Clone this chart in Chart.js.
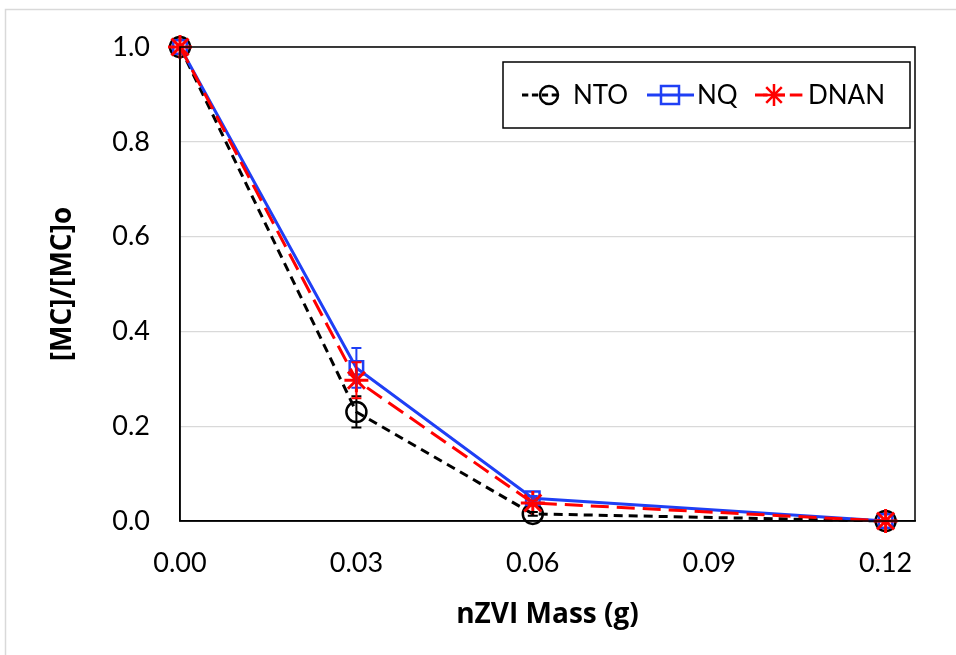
<!DOCTYPE html>
<html>
<head>
<meta charset="utf-8">
<script src="https://cdn.jsdelivr.net/npm/chart.js@4"></script>
<style>
  html, body { margin: 0; padding: 0; background: #fff; }
  #wrap { width: 956px; height: 655px; }
</style>
</head>
<body>
<div id="wrap"><canvas id="grafico" width="956" height="655"></canvas></div>
<script>
// nZVI mass (g)
var massas = [0, 0.03, 0.06, 0.12];
var nto = [1.0, 0.23, 0.015, 0.0];
var nq = [1.0, 0.323, 0.048, 0.0];
var dnan = [1.0, 0.297, 0.038, 0.0];
// error bars (+/-)
var ntoErr = [0, 0.033, 0.004, 0];
var nqErr = [0, 0.042, 0.005, 0];
var dnanErr = [0, 0.038, 0.005, 0];
var xTicks = [0, 0.03, 0.06, 0.09, 0.12];
var yTicks = [0, 0.2, 0.4, 0.6, 0.8, 1.0];

function pontos(ys) {
    return massas.map(function (x, i) { return { x: x, y: ys[i] }; });
}

var fonte = "Lato, 'Open Sans', sans-serif";
var fonteTitulo = "'Open Sans', Lato, sans-serif";

var series = [
    { label: "NTO", data: nto, err: ntoErr, color: "#000000", dash: [9, 6], style: "circle", order: 3 },
    { label: "NQ", data: nq, err: nqErr, color: "#1f3ff5", dash: [], style: "rect", order: 2 },
    { label: "DNAN", data: dnan, err: dnanErr, color: "#ff0000", dash: [18, 8], style: "star", order: 1 }
];

// gray frame + plot border
var molduraPlugin = {
    id: "moldura",
    beforeDraw: function (chart) {
        var ctx = chart.ctx;
        ctx.save();
        ctx.strokeStyle = "#d9d9d9";
        ctx.lineWidth = 1.5;
        ctx.strokeRect(5.5, 9.5, 1000, 1000);
        ctx.restore();
    },
    afterDraw: function (chart) {
        var a = chart.chartArea, ctx = chart.ctx;
        ctx.save();
        ctx.strokeStyle = "#000";
        ctx.lineWidth = 1.5;
        ctx.strokeRect(a.left, a.top, a.right - a.left, a.bottom - a.top);
        ctx.restore();
    }
};

// error bars drawn from the arrays
var errosPlugin = {
    id: "erros",
    afterDatasetsDraw: function (chart) {
        var ctx = chart.ctx, xs = chart.scales.x, ys = chart.scales.y;
        ctx.save();
        series.forEach(function (s) {
            ctx.strokeStyle = s.color;
            ctx.lineWidth = 2;
            s.err.forEach(function (e, i) {
                if (!e) return;
                var px = xs.getPixelForValue(massas[i]);
                var y1 = ys.getPixelForValue(s.data[i] - e);
                var y2 = ys.getPixelForValue(s.data[i] + e);
                ctx.beginPath();
                ctx.moveTo(px, y1); ctx.lineTo(px, y2);
                ctx.moveTo(px - 5, y1); ctx.lineTo(px + 5, y1);
                ctx.moveTo(px - 5, y2); ctx.lineTo(px + 5, y2);
                ctx.stroke();
            });
        });
        ctx.restore();
    }
};

function marcador(ctx, style, x, y, r, color) {
    ctx.strokeStyle = color;
    ctx.lineWidth = 2.5;
    ctx.setLineDash([]);
    ctx.beginPath();
    if (style === "circle") {
        ctx.arc(x, y, r, 0, Math.PI * 2);
    } else if (style === "rect") {
        ctx.rect(x - r, y - r, 2 * r, 2 * r);
    } else {
        for (var k = 0; k < 4; k++) {
            var ang = k * Math.PI / 4;
            ctx.moveTo(x - r * Math.cos(ang), y - r * Math.sin(ang));
            ctx.lineTo(x + r * Math.cos(ang), y + r * Math.sin(ang));
        }
    }
    ctx.stroke();
}

// legend box inside plot
var legendaPlugin = {
    id: "legenda",
    afterDraw: function (chart) {
        var ctx = chart.ctx;
        ctx.save();
        ctx.fillStyle = "#fff";
        ctx.fillRect(503, 62, 407, 66);
        ctx.strokeStyle = "#000";
        ctx.lineWidth = 1.5;
        ctx.strokeRect(503, 62, 407, 66);
        var itens = [
            { x0: 522, x1: 560, mx: 549, tx: 573, r: 9 },
            { x0: 647, x1: 694, mx: 670, tx: 697, r: 9 },
            { x0: 755, x1: 806, mx: 774, tx: 808, r: 11 }
        ];
        var y = 95;
        series.forEach(function (s, i) {
            var it = itens[i];
            ctx.strokeStyle = s.color;
            ctx.lineWidth = 3;
            ctx.setLineDash(s.dash.length ? [s.dash[0] * 0.7, s.dash[1] * 0.6] : []);
            ctx.beginPath();
            ctx.moveTo(it.x0, y); ctx.lineTo(it.x1, y);
            ctx.stroke();
            marcador(ctx, s.style, it.mx, y, it.r, s.color);
            ctx.fillStyle = "#000";
            ctx.font = "26px " + fonte;
            ctx.textBaseline = "middle";
            ctx.fillText(s.label, it.tx, y + 1);
        });
        ctx.restore();
    }
};

var config = {
    type: "line",
    data: {
        datasets: series.map(function (s) {
            return {
                label: s.label,
                data: pontos(s.data),
                borderColor: s.color,
                backgroundColor: "rgba(0,0,0,0)",
                borderWidth: 3,
                borderDash: s.dash,
                pointStyle: s.style,
                pointRadius: s.style === "rect" ? 9.5 : (s.style === "star" ? 12 : 10),
                pointBorderWidth: s.style === "star" ? 3 : 2.5,
                pointBorderColor: s.color,
                pointBackgroundColor: "rgba(0,0,0,0)",
                tension: 0,
                clip: false,
                order: s.order
            };
        })
    },
    options: {
        responsive: false,
        animation: false,
        layout: { padding: { left: 0, top: 47, right: 41, bottom: 0 } },
        plugins: { legend: { display: false }, tooltip: { enabled: false } },
        scales: {
            x: {
                type: "linear",
                min: 0,
                max: 0.125,
                afterBuildTicks: function (scale) {
                    scale.ticks = xTicks.map(function (v) { return { value: v }; });
                },
                afterFit: function (scale) { scale.height = 134; },
                grid: { display: false, drawTicks: false },
                border: { display: true, color: "#000", width: 1.5 },
                ticks: {
                    padding: 26,
                    color: "#000",
                    font: { family: fonte, size: 27 },
                    callback: function (v) { return Number(v).toFixed(2); }
                },
                title: {
                    display: true,
                    text: "nZVI Mass (g)",
                    color: "#000",
                    font: { family: fonteTitulo, size: 28, weight: "bold" },
                    padding: { top: 0, bottom: 23 }
                }
            },
            y: {
                type: "linear",
                min: 0,
                max: 1.0,
                afterBuildTicks: function (scale) {
                    scale.ticks = yTicks.map(function (v) { return { value: v }; });
                },
                afterFit: function (scale) { scale.width = 180; },
                grid: { color: "#d9d9d9", lineWidth: 1.2, drawTicks: false },
                border: { display: true, color: "#000", width: 1.5 },
                ticks: {
                    padding: 30,
                    color: "#000",
                    font: { family: fonte, size: 27 },
                    callback: function (v) { return Number(v).toFixed(1); }
                },
                title: {
                    display: true,
                    text: "[MC]/[MC]o",
                    color: "#000",
                    font: { family: fonteTitulo, size: 28, weight: "bold" },
                    padding: { top: 46, bottom: 0 }
                }
            }
        }
    },
    plugins: [molduraPlugin, errosPlugin, legendaPlugin]
};

var grafico = new Chart(document.getElementById("grafico"), config);
</script>
</body>
</html>
